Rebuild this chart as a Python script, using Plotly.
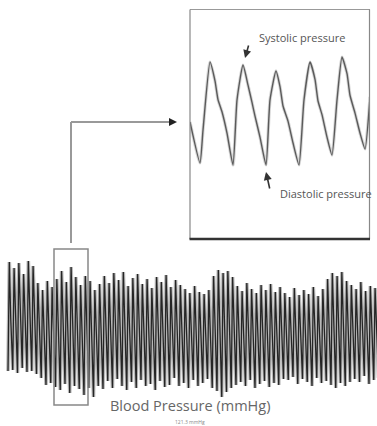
import plotly.graph_objects as go

# ---- Main recording: per-beat systolic peaks and following diastolic troughs (mmHg)
beat_period = 0.8  # s
start_trough = 74
systolic = [183, 177, 182, 171, 184, 179,
            162, 155, 164, 158,
            166, 174, 163, 178, 168, 160, 169, 164,
            155, 161,
            169, 162, 172, 165, 173, 159, 167, 171, 161, 166, 157, 168, 163, 170, 158, 165, 160,
            156, 152, 159, 153,
            151, 155,
            169, 175, 172, 174, 168,
            159, 154, 162, 156, 152, 160, 155, 161, 153, 158,
            152, 148, 157, 150, 155, 151, 158, 149, 156,
            166, 172, 169, 173, 164,
            160, 156, 163, 154, 159, 157, 161]
diastolic = [75, 72, 77, 73, 74, 71, 67,
             60, 62, 58,
             55, 61, 52, 59, 56, 50, 57, 48,
             59, 56,
             64, 57, 66, 59, 55, 63, 57, 65, 59, 61, 55, 64, 58, 60, 67, 59, 62,
             57, 65, 59, 62,
             66, 57, 54, 48, 53, 57, 60,
             63, 59, 65, 57, 61, 64, 58, 62, 60, 66,
             65, 68, 61, 66, 63, 59, 67, 62, 64,
             60, 57, 62, 59, 63,
             66, 63, 69, 61, 65, 67, 64]

# ---- Zoomed inset
inset_time = [0.0, 0.289, 0.376, 0.578, 0.722, 0.809, 0.924, 1.069, 1.242,
              1.358, 1.531, 1.676, 1.791, 1.878, 2.022, 2.196,
              2.311, 2.484, 2.600, 2.687, 2.831, 2.976, 3.149,
              3.293, 3.467, 3.611, 3.698, 3.813, 3.958, 4.102,
              4.247, 4.391, 4.536, 4.622, 4.767, 4.911, 5.056, 5.2]
inset_pressure = [121.4, 92.9, 115.8, 163.1, 150.0, 137.0, 128.5, 113.7, 91.5,
                  136.7, 161.0, 147.0, 135.0, 125.5, 110.9, 91.5,
                  136.7, 156.9, 146.0, 132.5, 122.0, 106.8, 91.5,
                  136.7, 163.1, 151.0, 136.0, 126.5, 110.9, 98.4,
                  136.7, 166.6, 155.0, 140.0, 127.6, 113.7, 102.6, 138.8]

# build main trace
t, p = [0.0], [start_trough]
for i, (s, d) in enumerate(zip(systolic, diastolic)):
    t0 = i * beat_period
    t += [t0 + 0.28 * beat_period, t0 + 0.58 * beat_period, t0 + beat_period]
    p += [s, d + 0.47 * (s - d), d]

W, H = 377, 426
PX_PER_S = 4.75 / beat_period
def px(x): return x / W
def py(y): return 1 - y / H

fig = go.Figure()
fig.add_trace(go.Scatter(x=t, y=p, mode="lines", xaxis="x", yaxis="y",
                         line=dict(color="rgba(0,0,0,0.28)", width=3.6), hoverinfo="skip"))
fig.add_trace(go.Scatter(x=t, y=p, mode="lines", xaxis="x", yaxis="y",
                         line=dict(color="rgba(0,0,0,0.8)", width=1.3), hoverinfo="skip"))
fig.add_trace(go.Scatter(x=inset_time, y=inset_pressure, mode="lines", xaxis="x2", yaxis="y2",
                         line=dict(color="rgba(90,90,90,0.25)", width=3.2, shape="spline", smoothing=0.5),
                         hoverinfo="skip"))
fig.add_trace(go.Scatter(x=inset_time, y=inset_pressure, mode="lines", xaxis="x2", yaxis="y2",
                         line=dict(color="#5a5a5a", width=1.4, shape="spline", smoothing=0.5),
                         hoverinfo="skip"))

shapes = [
    dict(type="rect", xref="x", yref="paper", x0=(54 - 8) / PX_PER_S, x1=(88 - 8) / PX_PER_S,
         y0=py(405), y1=py(249), line=dict(color="#888888", width=1.5)),
    dict(type="line", xref="paper", yref="paper", x0=px(71), x1=px(71), y0=py(243), y1=py(122),
         line=dict(color="#999999", width=2)),
    dict(type="line", xref="paper", yref="paper", x0=px(71), x1=px(172), y0=py(122), y1=py(122),
         line=dict(color="#999999", width=2)),
    dict(type="line", xref="paper", yref="paper", x0=px(190), x1=px(370), y0=py(9.5), y1=py(9.5),
         line=dict(color="#999999", width=1.2)),
    dict(type="line", xref="paper", yref="paper", x0=px(190), x1=px(190), y0=py(9.5), y1=py(239),
         line=dict(color="#888888", width=1.2)),
    dict(type="line", xref="paper", yref="paper", x0=px(369.5), x1=px(369.5), y0=py(9.5), y1=py(239),
         line=dict(color="#888888", width=1.2)),
    dict(type="line", xref="paper", yref="paper", x0=px(189.5), x1=px(370), y0=py(239), y1=py(239),
         line=dict(color="#333333", width=2.6)),
]

def label(x, y, text, size, color):
    return dict(xref="paper", yref="paper", x=px(x), y=py(y), xanchor="center", yanchor="middle",
                text=text, showarrow=False, font=dict(family="Open Sans", size=size, color=color))

annotations = [
    dict(xref="paper", yref="paper", x=px(177), y=py(122), ax=-8, ay=0, text="",
         showarrow=True, arrowhead=2, arrowsize=1, arrowwidth=1.6, arrowcolor="#222222"),
    label(302, 38, "Systolic pressure", 11, "#555555"),
    dict(xref="x2", yref="y2", x=1.589, y=165.9, ax=4, ay=-14, text="", showarrow=True,
         arrowhead=2, arrowsize=1, arrowwidth=1.6, arrowcolor="#333333"),
    label(326, 193, "Diastolic pressure", 11, "#555555"),
    dict(xref="x2", yref="y2", x=2.196, y=86.6, ax=4, ay=18, text="", showarrow=True,
         arrowhead=2, arrowsize=1, arrowwidth=1.6, arrowcolor="#333333"),
    label(190, 405, "Blood Pressure (mmHg)", 14.5, "#666666"),
    label(190, 421.5, "121.3 mmHg", 5, "#888888"),
]

fig.update_layout(
    width=W, height=H, margin=dict(l=0, r=0, t=0, b=0),
    paper_bgcolor="white", plot_bgcolor="rgba(0,0,0,0)", showlegend=False,
    xaxis=dict(domain=[0, 1], range=[-8 / PX_PER_S, 369 / PX_PER_S], visible=False, fixedrange=True),
    yaxis=dict(domain=[py(405), py(249)], range=[40, 196], visible=False, fixedrange=True),
    xaxis2=dict(domain=[px(190), px(370)], range=[0, 5.2], visible=False, anchor="y2"),
    yaxis2=dict(domain=[py(239), py(9)], range=[40, 200], visible=False, anchor="x2"),
    shapes=shapes, annotations=annotations,
)
fig.write_html("out.html", config={"displayModeBar": False},
               post_script="document.body.style.margin='0';document.body.style.padding='0';")
